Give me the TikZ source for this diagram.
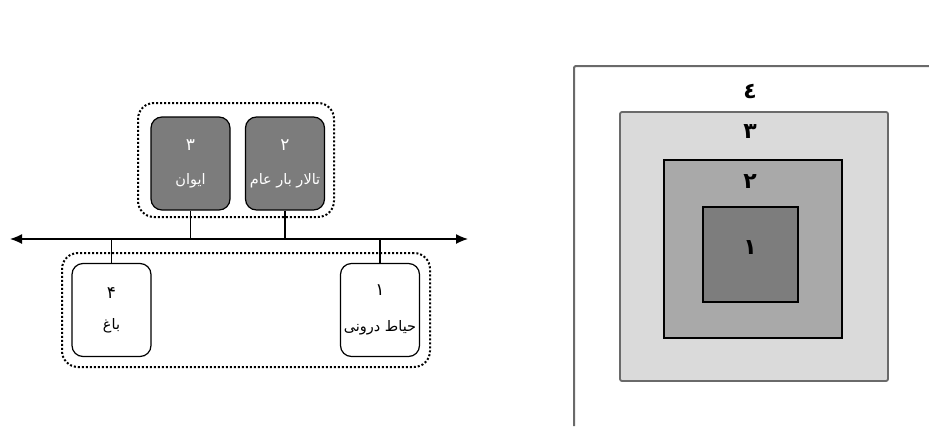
\documentclass[tikz,border=0pt]{standalone}
\usepackage{fontspec}
\newfontfamily\arabicfont[Script=Arabic]{DejaVu Sans}
\TeXXeTstate=1
\usetikzlibrary{arrows.meta}
\definecolor{roomgray}{HTML}{7C7C7C}
\definecolor{ringA}{HTML}{7D7D7D}
\definecolor{ringB}{HTML}{A9A9A9}
\definecolor{ringC}{HTML}{DADADA}
\definecolor{framegray}{HTML}{6A6A6A}
\newcommand{\roomno}[1]{{\fontsize{17}{18}\selectfont #1}}

\begin{document}
\begin{tikzpicture}[x=1pt,y=-1pt,
	room/.style={draw,line width=1.2pt,rounded corners=11pt,minimum width=79pt,
		minimum height=93pt,inner sep=0pt,align=center,
		font=\arabicfont\fontsize{14.5}{17}\selectfont},
	group/.style={draw,line width=2pt,dash pattern=on 2pt off 2pt,
		rounded corners=16pt,inner sep=0pt},
	ring/.style={draw,line width=1.2pt,inner sep=0pt},
	digit/.style={font=\arabicfont\bfseries\fontsize{22}{26}\selectfont,inner sep=0pt}]
	\useasboundingbox (0,0) rectangle (929,426);
	% left: rooms on the axis
	\node [group, minimum width=196pt, minimum height=114pt] (GT) at (236, 160) {};
	\node [group, minimum width=368pt, minimum height=114pt] (GB) at (246, 310) {};
	\node [room, fill=roomgray, text=white] (IW) at (190.5, 163.5) {\roomno{۳}\\[17pt]\beginR ایوان\endR};
	\node [room, fill=roomgray, text=white] (TB) at (285, 163.5) {\roomno{۲}\\[17pt]\beginR تالار بار عام\endR};
	\node [room, fill=white] (BG) at (111.5, 310) {\roomno{۴}\\[14pt]\beginR باغ\endR};
	\node [room, fill=white] (HD) at (380, 310) {\roomno{۱}\\[19pt]\beginR حیاط درونی\endR};
	\coordinate (AL) at (10, 239);
	\coordinate (AR) at (468, 239);
	\draw [{Latex[length=12pt,width=10pt]}-{Latex[length=12pt,width=10pt]}, line width=1.3pt] (AL) -- (AR);
	\draw [line width=1.2pt] (IW.south) -- (IW.south |- AL);
	\draw [line width=1.2pt] (TB.south) -- (TB.south |- AL);
	\draw [line width=1.2pt] (BG.north) -- (BG.north |- AL);
	\draw [line width=1.2pt] (HD.north) -- (HD.north |- AL);
	% right: nested squares
	\coordinate (FB) at (574, 426);
	\coordinate (FC) at (574, 66);
	\coordinate (FR) at (929, 66);
	\draw [framegray, line width=2pt, rounded corners=2pt] (FB) -- (FC) -- (FR);
	\node [ring, draw=framegray, line width=1.8pt, fill=ringC, rounded corners=2pt,
		minimum width=268pt, minimum height=269pt] (R3) at (754, 246.5) {};
	\node [ring, fill=ringB, minimum width=178pt, minimum height=178pt] (R2) at (753, 249) {};
	\node [ring, fill=ringA, minimum width=95pt, minimum height=95pt] (R1) at (750.5, 254.5) {};
	\node [digit] (D4) at (750, 92) {٤};
	\node [digit] (D3) at (750, 132) {٣};
	\node [digit] (D2) at (750, 182) {٢};
	\node [digit] (D1) at (750, 248) {١};
\end{tikzpicture}
\end{document}
